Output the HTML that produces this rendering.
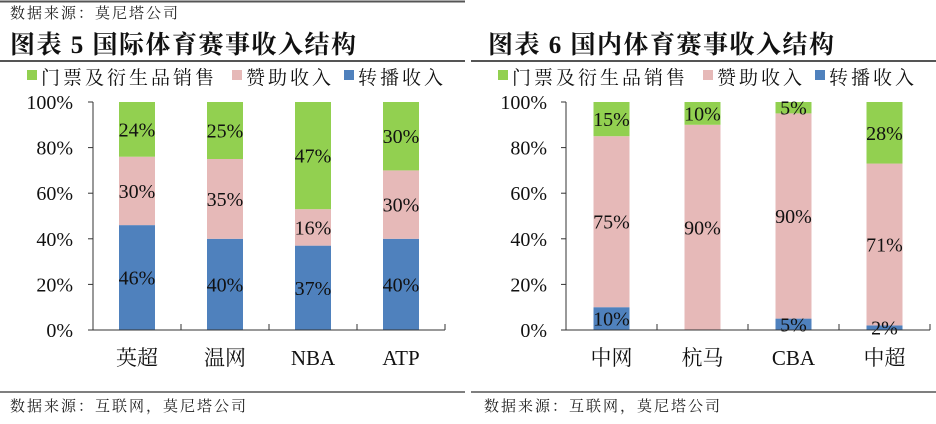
<!DOCTYPE html>
<html><head><meta charset="utf-8"><style>
body{margin:0;background:#fff;}
svg{display:block;font-family:"Liberation Serif","Noto Serif CJK SC",serif;}
.cn{font-family:"Liberation Serif","Noto Serif CJK SC","Noto Sans CJK SC",serif;}
</style></head><body>
<svg id="s" width="936" height="424" viewBox="0 0 936 424">
<line x1="0" y1="1.5" x2="465" y2="1.5" stroke="#555" stroke-width="2"/>
<text x="10" y="18" font-size="15" letter-spacing="2" class="cn" fill="#222">数据来源：莫尼塔公司</text>
<text x="10" y="53" font-size="25" letter-spacing="1.5" font-weight="bold" class="cn" fill="#111">图表 5  国际体育赛事收入结构</text>
<line x1="0" y1="61" x2="465" y2="61" stroke="#555" stroke-width="2"/>
<text x="488" y="53" font-size="25" letter-spacing="1.5" font-weight="bold" class="cn" fill="#111">图表 6  国内体育赛事收入结构</text>
<line x1="471" y1="61" x2="936" y2="61" stroke="#555" stroke-width="2"/>
<line x1="0" y1="392" x2="465" y2="392" stroke="#555" stroke-width="1.5"/>
<line x1="471" y1="392" x2="936" y2="392" stroke="#555" stroke-width="1.5"/>
<text x="10" y="411" font-size="15" letter-spacing="2" class="cn" fill="#222">数据来源：互联网，莫尼塔公司</text>
<text x="484" y="411" font-size="15" letter-spacing="2" class="cn" fill="#222">数据来源：互联网，莫尼塔公司</text>
<g id="c1"></g>
<g id="c2"></g>
</svg>
<script>
const seriesNames=["门票及衍生品销售","赞助收入","转播收入"];
const yTicks=["0%","20%","40%","60%","80%","100%"];
const cats1=["英超","温网","NBA","ATP"];
const blue1=[46,40,37,40];
const pink1=[30,35,16,30];
const green1=[24,25,47,30];
const cats2=["中网","杭马","CBA","中超"];
const blue2=[10,0,5,2];
const pink2=[75,90,90,71];
const green2=[15,10,5,28];
const NS="http://www.w3.org/2000/svg";
function mk(p,tag,a,txt){const e=document.createElementNS(NS,tag);for(const k in a)e.setAttribute(k,a[k]);if(txt!==undefined)e.textContent=txt;p.appendChild(e);return e;}
const colors={green:"#92d050",pink:"#e6b9b8",blue:"#4f81bd"};
function draw(g,x0,x1,cats,blue,pink,green,lx,tickX){
 const yTop=102,yBot=330;
 const y=v=>yBot-(yBot-yTop)*v/100;
 const step=(x1-x0)/cats.length;
 const cx=i=>x0+step*(i+0.5);
 const bw=36;
 const lg=[["green",lx],["pink",lx+205],["blue",lx+317]];
 lg.forEach((l,i)=>{
  const r=mk(g,"rect",{x:l[1],y:70,width:10,height:10,fill:colors[l[0]]});
  
  
  const t=mk(g,"text",{x:l[1]+14,y:84,"font-size":19,"letter-spacing":3,"class":"cn",fill:"#111"},seriesNames[i]);
  
  
 });
 yTicks.forEach((s,i)=>{
  const v=i*20;
  const t=mk(g,"text",{x:tickX,y:y(v)+7,"font-size":20,"text-anchor":"end",fill:"#111"},s);
  
  
  const tl=mk(g,"line",{x1:x0-5,x2:x0,y1:y(v),y2:y(v),stroke:"#333"});
  
  
 });
 const ax=mk(g,"line",{x1:x0,x2:x0,y1:yTop,y2:yBot,stroke:"#333"});
 
 
 cats.forEach((c,i)=>{
  const segs=[["blue",0,blue[i]],["pink",blue[i],blue[i]+pink[i]],["green",blue[i]+pink[i],100]];
  const vals=[blue[i],pink[i],green[i]];
  segs.forEach((s,j)=>{
   if(s[2]-s[1]<=0)return;
   const r=mk(g,"rect",{x:cx(i)-bw/2,y:y(s[2]),width:bw,height:y(s[1])-y(s[2]),fill:colors[s[0]]});
   
   
  });
  segs.forEach((s,j)=>{
   if(vals[j]<=0)return;
   const t=mk(g,"text",{x:cx(i),y:(y(s[1])+y(s[2]))/2+7,"font-size":20,"text-anchor":"middle",fill:"#111"},vals[j]+"%");
   
   
  });
  const cl=mk(g,"text",{x:cx(i),y:365,"font-size":21,"text-anchor":"middle","class":"cn",fill:"#111"},c);
  
  
  const tk=mk(g,"line",{x1:x0+step*(i+1),x2:x0+step*(i+1),y1:yBot-6,y2:yBot,stroke:"#333"});
  
  
 });
 const xa=mk(g,"line",{x1:x0,x2:x1,y1:yBot,y2:yBot,stroke:"#333"});
 
 
}
draw(document.getElementById("c1"),93,445,cats1,blue1,pink1,green1,27,73);
draw(document.getElementById("c2"),566,930,cats2,blue2,pink2,green2,498,547);
</script>
</body></html>
